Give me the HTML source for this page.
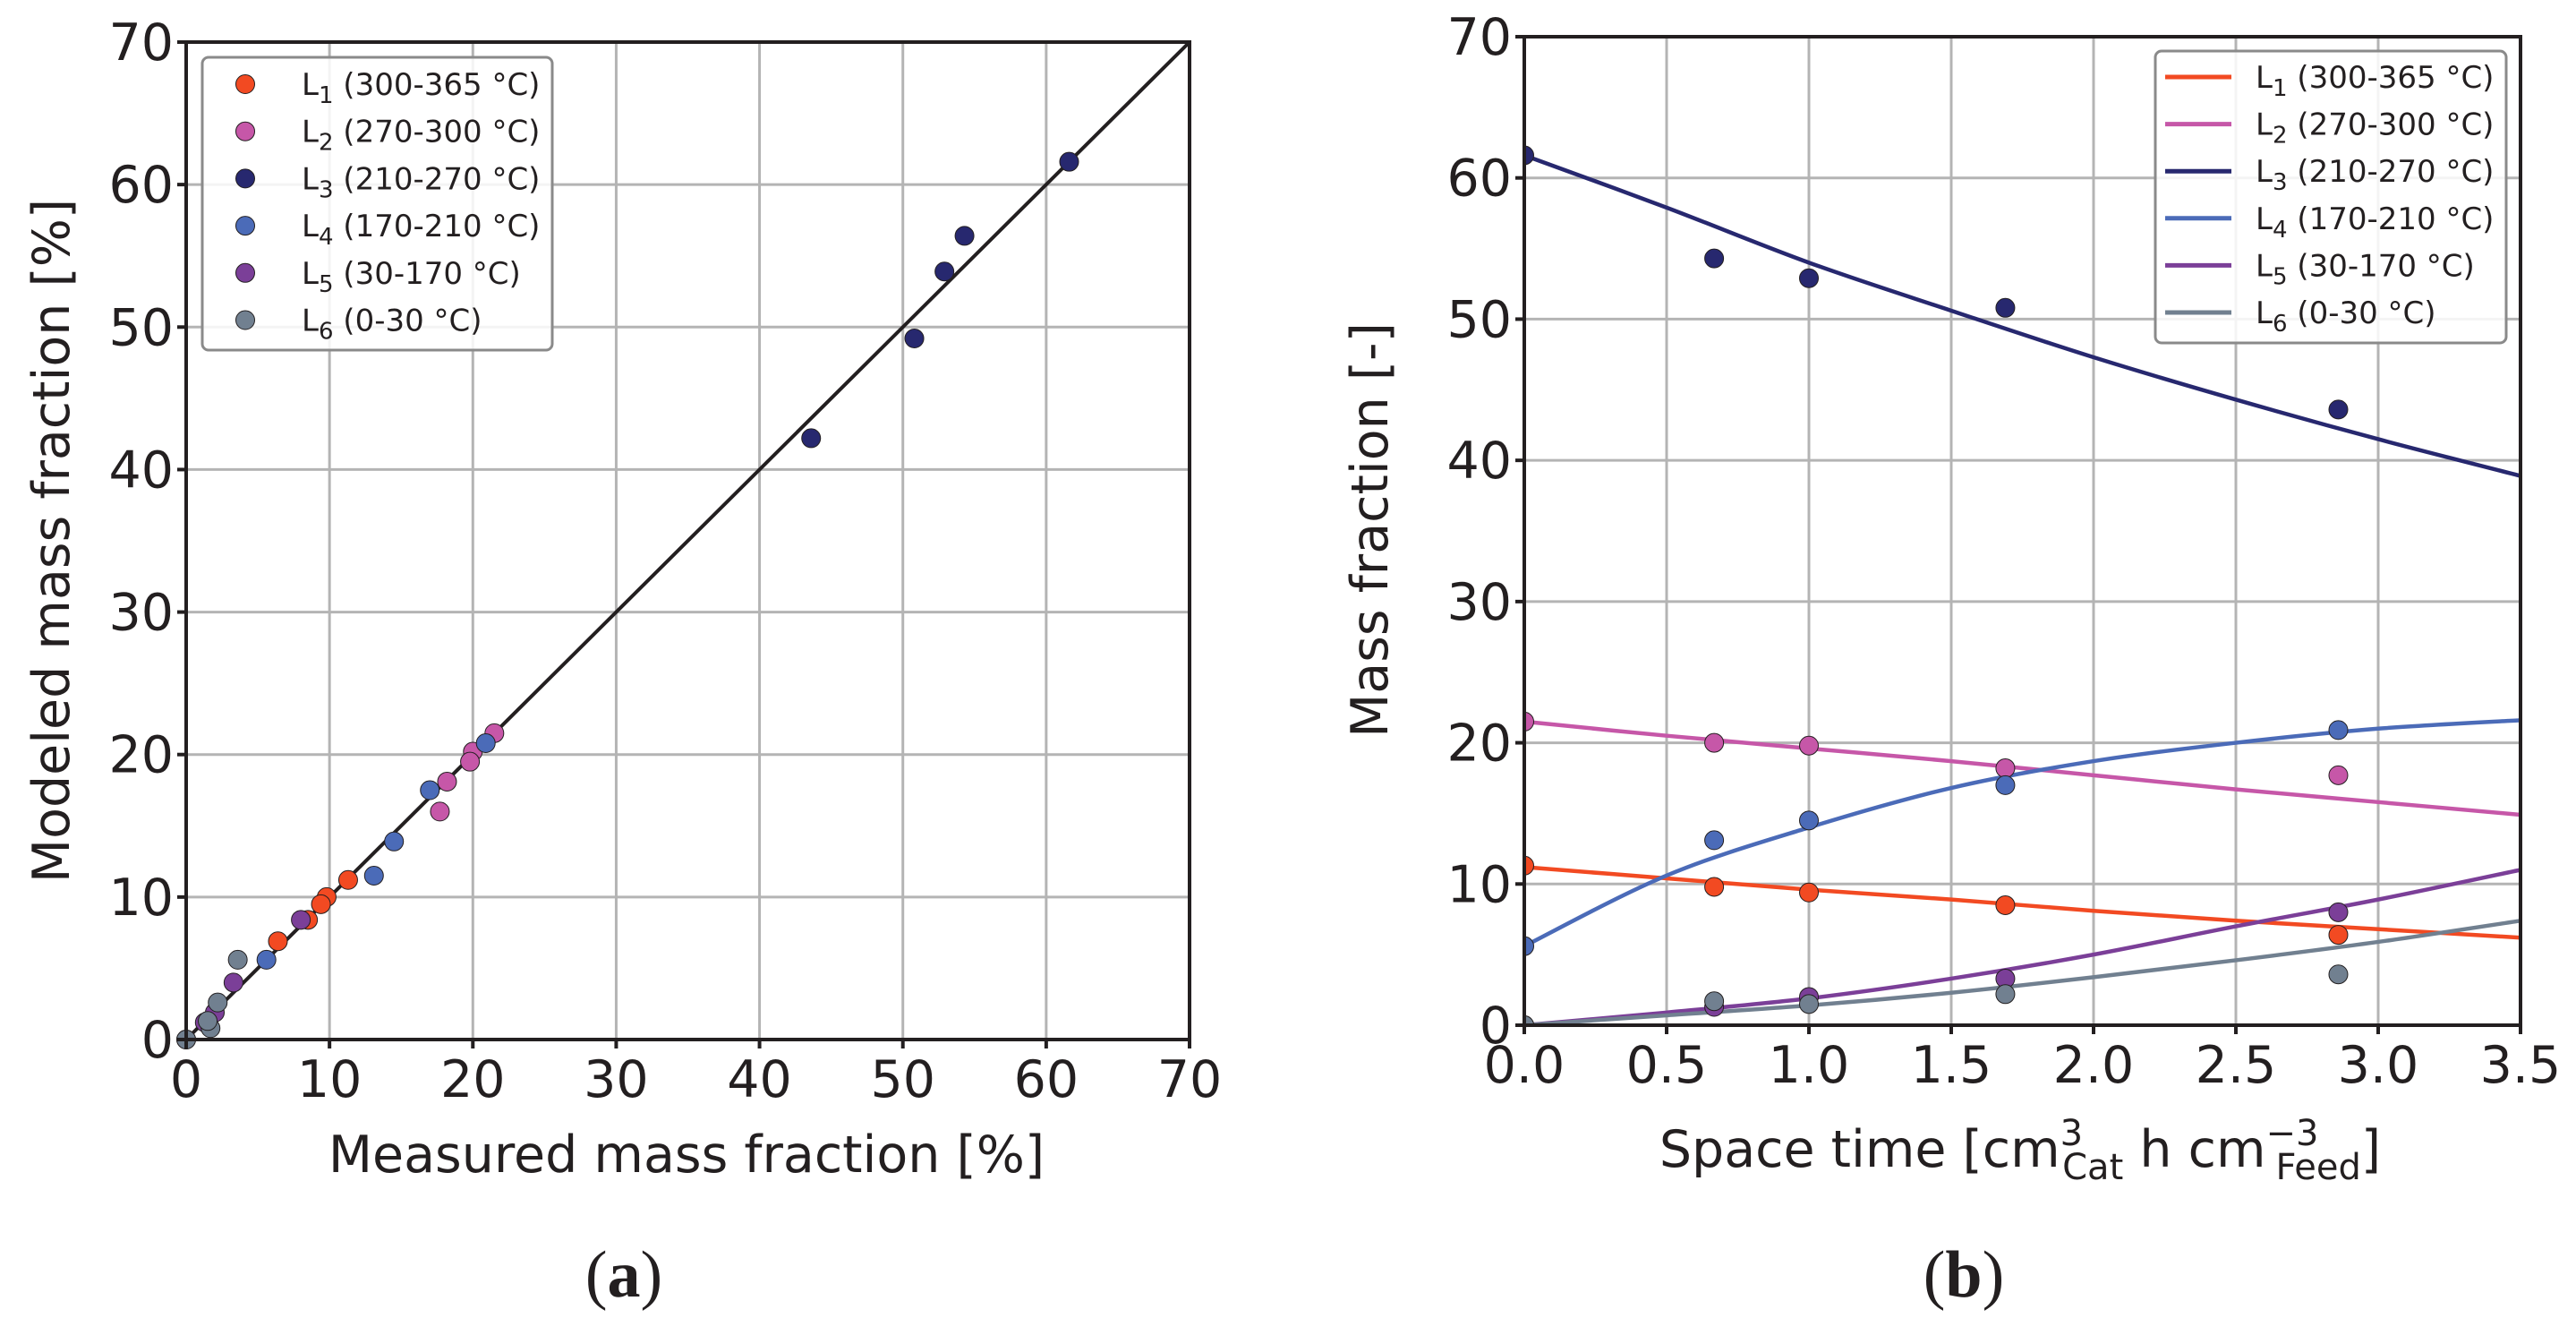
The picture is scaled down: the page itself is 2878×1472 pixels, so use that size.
<!DOCTYPE html>
<html><head><meta charset="utf-8"><style>
html,body{margin:0;padding:0;background:#fff}
svg{display:block;font-family:"DejaVu Sans","Liberation Sans",sans-serif}
</style></head><body>
<svg id="fig" width="2878" height="1472" viewBox="0 0 2878 1472" xmlns="http://www.w3.org/2000/svg">
<g id="pa"></g>
<g id="pb"></g>
</svg>
<script>
const seriesNames = ["L1","L2","L3","L4","L5","L6"];
const seriesRanges = ["(300-365 °C)","(270-300 °C)","(210-270 °C)","(170-210 °C)","(30-170 °C)","(0-30 °C)"];
const seriesColors = ["#f24a22","#c657a8","#27286f","#4b6bb8","#7b3f98","#718090"];
const spaceTimes = [0, 0.667, 1.0, 1.69, 2.86];
const measured = [
  [11.3, 9.8, 9.4, 8.5, 6.4],
  [21.5, 20.0, 19.8, 18.2, 17.7],
  [61.6, 54.3, 52.9, 50.8, 43.6],
  [5.6, 13.1, 14.5, 17.0, 20.9],
  [0.0, 1.3, 2.0, 3.3, 8.0],
  [0.0, 1.7, 1.5, 2.2, 3.6]
];
const modeledAtPoints = [
  [11.2, 10.0, 9.5, 8.4, 6.9],
  [21.5, 20.2, 19.5, 18.1, 16.0],
  [61.6, 56.4, 53.9, 49.2, 42.2],
  [5.6, 11.5, 13.9, 17.5, 20.8],
  [0.0, 1.2, 1.9, 4.0, 8.4],
  [0.0, 0.8, 1.3, 2.6, 5.6]
];
const curveTimes = [0, 0.5, 1.0, 1.5, 2.0, 2.5, 3.0, 3.5];
const curveL1 = [11.2, 10.4, 9.6, 8.9, 8.1, 7.4, 6.8, 6.2];
const curveL2 = [21.5, 20.5, 19.6, 18.7, 17.7, 16.7, 15.8, 14.9];
const curveL3 = [61.6, 57.9, 54.0, 50.6, 47.3, 44.3, 41.5, 38.9];
const curveL4 = [5.6, 10.6, 14.0, 16.8, 18.7, 20.0, 21.0, 21.6];
const curveL5 = [0.0, 0.9, 1.9, 3.3, 5.0, 7.0, 8.9, 11.0];
const curveL6 = [0.0, 0.7, 1.4, 2.3, 3.4, 4.6, 5.9, 7.4];
const curves = [curveL1, curveL2, curveL3, curveL4, curveL5, curveL6];
const aTicks = [0,10,20,30,40,50,60,70];
const bXTicks = ["0.0","0.5","1.0","1.5","2.0","2.5","3.0","3.5"];
const bYTicks = [0,10,20,30,40,50,60,70];

const NS = "http://www.w3.org/2000/svg";
const TICK_FS = 57, LABEL_FS = 57;
function mk(parent, tag, attrs, text){
  const e = document.createElementNS(NS, tag);
  for (const k in attrs) e.setAttribute(k, attrs[k]);
  if (text !== undefined) e.textContent = text;
  parent.appendChild(e); return e;
}
function catmull(pts){
  let d = "M" + pts[0][0] + "," + pts[0][1];
  for (let i=0;i<pts.length-1;i++){
    const p0=pts[Math.max(0,i-1)], p1=pts[i], p2=pts[i+1], p3=pts[Math.min(pts.length-1,i+2)];
    const c1=[p1[0]+(p2[0]-p0[0])/6, p1[1]+(p2[1]-p0[1])/6];
    const c2=[p2[0]-(p3[0]-p1[0])/6, p2[1]-(p3[1]-p1[1])/6];
    d += " C"+c1[0]+","+c1[1]+" "+c2[0]+","+c2[1]+" "+p2[0]+","+p2[1];
  }
  return d;
}
function legendLabel(g, x, y, i){
  const t = mk(g, "text", {x:x, y:y+12, "font-size":34, fill:"#231f20"});
  
  
  mk(t, "tspan", {}, "L");
  mk(t, "tspan", {dy:9, "font-size":26}, String(i+1));
  mk(t, "tspan", {dy:-9}, " " + seriesRanges[i]);
}
function axesFrame(g, L, T, R, B, xt, yt, xs, ys){
  xt.forEach((v,i)=>{ const x=xs(i); const l=mk(g,"line",{x1:x,x2:x,y1:T,y2:B,stroke:"#b4b4b4","stroke-width":3});
      });
  yt.forEach(v=>{ const y=ys(v); const l=mk(g,"line",{x1:L,x2:R,y1:y,y2:y,stroke:"#b4b4b4","stroke-width":3});
      });
}
function axesBorder(g, L, T, R, B, xt, yt, xs, ys){
  const r = mk(g,"rect",{x:L,y:T,width:R-L,height:B-T,fill:"none",stroke:"#231f20","stroke-width":4});
   
  xt.forEach((v,i)=>{ const x=xs(i);
    mk(g,"line",{x1:x,x2:x,y1:B,y2:B+10,stroke:"#231f20","stroke-width":4});
    const t=mk(g,"text",{x:x,y:B+64,"font-size":TICK_FS,"text-anchor":"middle",fill:"#231f20"},String(v));
      });
  yt.forEach(v=>{ const y=ys(v);
    mk(g,"line",{x1:L-10,x2:L,y1:y,y2:y,stroke:"#231f20","stroke-width":4});
    const t=mk(g,"text",{x:L-14,y:y+20,"font-size":TICK_FS,"text-anchor":"end",fill:"#231f20"},String(v));
      });
}

// ---------- panel a ----------
(function(){
  const g = document.getElementById("pa");
  const L=208,T=47,R=1329,B=1161;
  const sx = v => L + (v/70)*(R-L);
  const sy = v => B - (v/70)*(B-T);
  axesFrame(g,L,T,R,B,aTicks,aTicks,i=>sx(aTicks[i]),sy);
  const diag = mk(g,"line",{x1:sx(0),y1:sy(0),x2:sx(70),y2:sy(70),stroke:"#231f20","stroke-width":4});
   
  for (let s=0;s<6;s++){
    for (let k=0;k<measured[s].length;k++){
      const c = mk(g,"circle",{cx:sx(measured[s][k]),cy:sy(modeledAtPoints[s][k]),r:10.5,fill:seriesColors[s],stroke:"#231f20","stroke-width":1});
      
      
    }
  }
  axesBorder(g,L,T,R,B,aTicks,aTicks,i=>sx(aTicks[i]),sy);
  const leg = mk(g,"g",{});
   
  mk(leg,"rect",{x:226,y:64,width:391,height:327,rx:7,fill:"#fff","fill-opacity":0.85,stroke:"#8a8a8a","stroke-width":3});
  for (let i=0;i<6;i++){
    const y = 94 + i*52.7;
    const m = mk(leg,"circle",{cx:274,cy:y,r:10.5,fill:seriesColors[i],stroke:"#231f20","stroke-width":1});
     
    legendLabel(leg, 337, y, i);
  }
  const xl = mk(g,"text",{x:767,y:1309,"font-size":LABEL_FS,"text-anchor":"middle",fill:"#231f20"},"Measured mass fraction [%]");
   
  const yl = mk(g,"text",{x:0,y:0,"font-size":LABEL_FS,"text-anchor":"middle",fill:"#231f20",transform:"translate(77,604) rotate(-90)"},"Modeled mass fraction [%]");
   
  const cap = mk(g,"text",{x:697,y:1448,"font-size":74,"text-anchor":"middle","font-family":"Liberation Serif, serif",fill:"#231f20"},"");
   
  mk(cap,"tspan",{},"(");mk(cap,"tspan",{"font-weight":"bold"},"a");mk(cap,"tspan",{},")");
})();

// ---------- panel b ----------
(function(){
  const g = document.getElementById("pb");
  const L=1703,T=41,R=2816,B=1145;
  const sx = v => L + (v/3.5)*(R-L);
  const sy = v => B - (v/70)*(B-T);
  const xi = i => sx(parseFloat(bXTicks[i]));
  axesFrame(g,L,T,R,B,bXTicks,bYTicks,xi,sy);
  const clip = mk(g,"clipPath",{id:"clipb"}); mk(clip,"rect",{x:L,y:T,width:R-L,height:B-T});
  for (let s=0;s<6;s++){
    const pts = curves[s].map((v,k)=>[sx(curveTimes[k]), sy(v)]);
    const p = mk(g,"path",{d:catmull(pts),fill:"none",stroke:seriesColors[s],"stroke-width":4.5});
    
    
  }
  const pg = mk(g,"g",{"clip-path":"url(#clipb)"});
  for (let s=0;s<6;s++){
    for (let k=0;k<spaceTimes.length;k++){
      const c = mk(pg,"circle",{cx:sx(spaceTimes[k]),cy:sy(measured[s][k]),r:10.5,fill:seriesColors[s],stroke:"#231f20","stroke-width":1});
      
      
    }
  }
  axesBorder(g,L,T,R,B,bXTicks,bYTicks,xi,sy);
  const leg = mk(g,"g",{});
   
  mk(leg,"rect",{x:2408,y:57,width:392,height:326,rx:7,fill:"#fff","fill-opacity":0.85,stroke:"#8a8a8a","stroke-width":3});
  for (let i=0;i<6;i++){
    const y = 86 + i*52.6;
    const m = mk(leg,"line",{x1:2419,x2:2493,y1:y,y2:y,stroke:seriesColors[i],"stroke-width":5});
     
    legendLabel(leg, 2520, y, i);
  }
  const xl = mk(g,"text",{x:2257,y:1303,"font-size":LABEL_FS,"text-anchor":"middle",fill:"#231f20"},"");
   
  mk(xl,"tspan",{},"Space time [cm");
  mk(xl,"tspan",{dy:-24,"font-size":40},"3");
  mk(xl,"tspan",{dx:-23,dy:38,"font-size":40},"Cat");
  mk(xl,"tspan",{dy:-14}," h cm");
  mk(xl,"tspan",{dy:-24,"font-size":40},"−3");
  mk(xl,"tspan",{dx:-48,dy:38,"font-size":40},"Feed");
  mk(xl,"tspan",{dy:-14},"]");
  const yl = mk(g,"text",{x:0,y:0,"font-size":LABEL_FS,"text-anchor":"middle",fill:"#231f20",transform:"translate(1550,592) rotate(-90)"},"Mass fraction [-]");
   
  const cap = mk(g,"text",{x:2194,y:1448,"font-size":74,"text-anchor":"middle","font-family":"Liberation Serif, serif",fill:"#231f20"},"");
   
  mk(cap,"tspan",{},"(");mk(cap,"tspan",{"font-weight":"bold"},"b");mk(cap,"tspan",{},")");
})();
</script>
</body></html>
